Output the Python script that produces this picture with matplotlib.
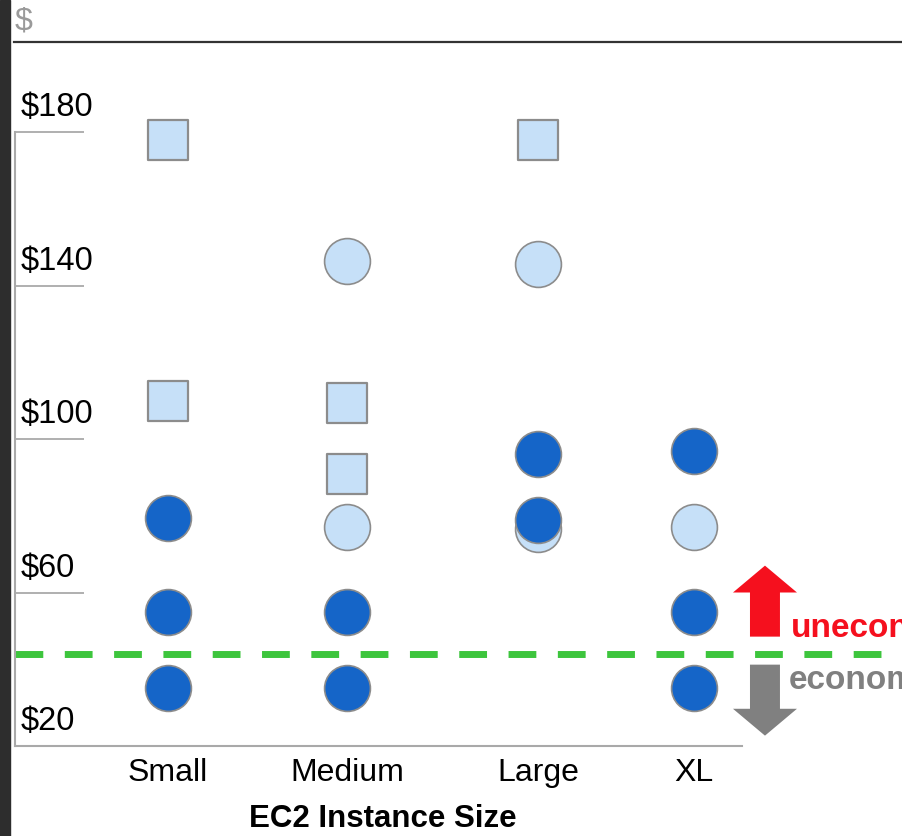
import matplotlib.pyplot as plt
from matplotlib.patches import FancyArrow, Rectangle
from matplotlib.lines import Line2D
import matplotlib.transforms as mtransforms

plt.rcParams['font.family'] = ['Liberation Sans', 'DejaVu Sans']

sizes = ["Small", "Medium", "Large", "XL"]
y_ticks = [20, 60, 100, 140, 180]
y_labels = ["$20", "$60", "$100", "$140", "$180"]
threshold = 44

# monthly cost points per instance size, one set per marker style
square_sizes = ["Small", "Small", "Medium", "Medium", "Large"]
square_costs = [178, 110, 109.5, 91, 178]

light_sizes = ["Medium", "Medium", "Large", "Large", "XL"]
light_costs = [146.5, 77, 145.5, 76.5, 77]

dark_sizes = ["Small", "Small", "Small", "Medium", "Medium",
              "Large", "Large", "XL", "XL", "XL"]
dark_costs = [79.5, 55, 35, 55, 35, 96, 79, 97, 55, 35]

# x slot for each size on the axis
slot = {"Small": 0, "Medium": 1.02, "Large": 2.11, "XL": 3}

W, H = 903, 836
fig = plt.figure(figsize=(W / 100, H / 100), dpi=100)
ax = fig.add_axes([15 / W, 90 / H, 727 / W, 614 / H])
ax.set_xlim(-0.8726, 3.274)
ax.set_ylim(20, 180)

axis_grey = "#a9a9a9"
for side in ["top", "right"]:
    ax.spines[side].set_visible(False)
for side in ["left", "bottom"]:
    ax.spines[side].set_color(axis_grey)
    ax.spines[side].set_linewidth(1.5)

light = "#c6e0f8"
dark = "#1565c8"
edge = "#8c8c8c"

ax.scatter([slot[s] for s in square_sizes], square_costs, marker="s", s=29**2,
           facecolor=light, edgecolor=edge, linewidth=1.6, zorder=3, clip_on=False)
ax.scatter([slot[s] for s in light_sizes], light_costs, marker="o", s=33**2,
           facecolor=light, edgecolor=edge, linewidth=1.2, zorder=3, clip_on=False)
ax.scatter([slot[s] for s in dark_sizes], dark_costs, marker="o", s=33**2,
           facecolor=dark, edgecolor=edge, linewidth=1.2, zorder=4, clip_on=False)

# y ticks: long inward lines with the label sitting on top
ax.set_yticks(y_ticks)
ax.set_yticklabels([])
ax.tick_params(axis="y", direction="in", length=50, width=1.3, color=axis_grey)
trans = mtransforms.blended_transform_factory(ax.transAxes, ax.transData)
for v, lab in zip(y_ticks, y_labels):
    ax.annotate(lab, xy=(0, v), xycoords=trans, xytext=(4, 11.5),
                textcoords="offset points", fontsize=23.5, va="baseline", ha="left")

ax.set_xticks([slot[s] for s in sizes])
ax.set_xticklabels(sizes, fontsize=23)
ax.tick_params(axis="x", length=0, pad=8.5)

ax.text(0.5055, -0.132, "EC2 Instance Size", transform=ax.transAxes,
        fontsize=22.5, fontweight="bold", ha="center", va="baseline")

# break-even line
ax.axhline(threshold, xmin=0, xmax=(W - 15) / 727, color="#3dc53d",
           lw=5, dashes=(4, 3.1), zorder=2, clip_on=False)

# up / down arrows with labels
ax.add_patch(FancyArrow(3.405, 48.5, 0, 18.5, width=0.171, head_width=0.365,
                        head_length=7.0, length_includes_head=True,
                        color="#f5101e", lw=0, clip_on=False))
ax.add_patch(FancyArrow(3.405, 41.2, 0, -18.5, width=0.171, head_width=0.365,
                        head_length=7.0, length_includes_head=True,
                        color="#808080", lw=0, clip_on=False))
ax.text(3.55, 48.5, "uneconomical", color="#f5101e", fontsize=24,
        fontweight="bold", va="baseline", ha="left", clip_on=False)
ax.text(3.54, 34.9, "economical", color="#808080", fontsize=24,
        fontweight="bold", va="baseline", ha="left", clip_on=False)

# header strip: currency caption and rule
fig.text(15 / W, 1 - 30 / H, "$", color="#9a9a9a", fontsize=23, va="baseline")
fig.add_artist(Line2D([14 / W, 1], [1 - 42 / H, 1 - 42 / H], color="#333333", lw=1.6))
fig.add_artist(Rectangle((0, 0), 10 / W, 1, color="#2d2d2d", transform=fig.transFigure))

fig.savefig("out.png", dpi=100)
